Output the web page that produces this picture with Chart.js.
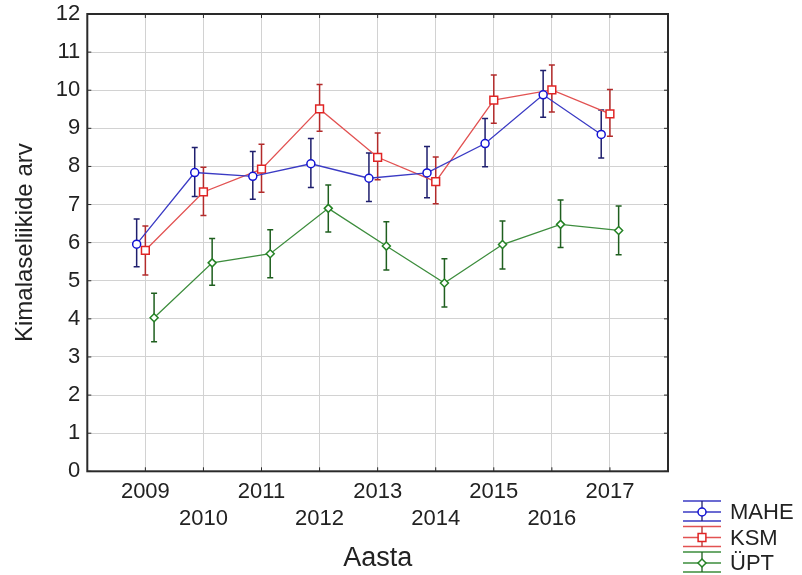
<!DOCTYPE html>
<html>
<head>
<meta charset="utf-8">
<script src="https://cdn.jsdelivr.net/npm/chart.js@4/dist/chart.umd.min.js"></script>
<style>
  html, body { margin: 0; padding: 0; background: #fff; }
  #wrap { width: 802px; height: 575px; position: relative; }
</style>
</head>
<body>
<div id="wrap"><canvas id="c"></canvas></div>
<script>
// Kimalaseliikide arv aastate kaupa (keskmine ja usaldusvahemik)
const years = [2009, 2010, 2011, 2012, 2013, 2014, 2015, 2016, 2017];
const yTicks = [0, 1, 2, 3, 4, 5, 6, 7, 8, 9, 10, 11, 12];
const seriesNames = ['MAHE', 'KSM', 'ÜPT'];

const maheMean = [5.96, 7.84, 7.74, 8.07, 7.69, 7.83, 8.60, 9.88, 8.84];
const maheLow  = [5.37, 7.21, 7.14, 7.45, 7.08, 7.18, 7.99, 9.29, 8.22];
const maheHigh = [6.62, 8.50, 8.39, 8.73, 8.35, 8.52, 9.26, 10.52, 9.48];

const ksmMean = [5.80, 7.33, 7.93, 9.51, 8.24, 7.60, 9.74, 10.01, 9.38];
const ksmLow  = [5.15, 6.71, 7.32, 8.92, 7.65, 7.02, 9.13, 9.43, 8.79];
const ksmHigh = [6.44, 7.98, 8.58, 10.15, 8.88, 8.25, 10.40, 10.66, 10.02];

const uptMean = [4.03, 5.47, 5.71, 6.90, 5.91, 4.94, 5.95, 6.48, 6.32];
const uptLow  = [3.40, 4.88, 5.08, 6.28, 5.28, 4.31, 5.31, 5.87, 5.68];
const uptHigh = [4.67, 6.11, 6.34, 7.51, 6.55, 5.58, 6.57, 7.12, 6.96];

const dodge = 0.15; // horisontaalne nihe rühmade vahel

function makeSet(name, mean, low, high, shift, lineColor, markColor, errColor, style, radius) {
  return {
    label: name,
    data: years.map((y, i) => ({ x: y + shift, y: mean[i] })),
    low: low, high: high, errColor: errColor,
    borderColor: lineColor, borderWidth: 1.3,
    pointStyle: style, pointRadius: radius,
    pointBorderColor: markColor, pointBackgroundColor: '#fff',
    pointBorderWidth: 1.5, tension: 0
  };
}

const errorBars = {
  id: 'errorBars',
  beforeDatasetsDraw(chart) {
    const ctx = chart.ctx, ys = chart.scales.y;
    chart.data.datasets.forEach((ds, di) => {
      const meta = chart.getDatasetMeta(di);
      ctx.save();
      ctx.strokeStyle = ds.errColor;
      ctx.lineWidth = 1.5;
      meta.data.forEach((pt, i) => {
        const y1 = ys.getPixelForValue(ds.low[i]), y2 = ys.getPixelForValue(ds.high[i]);
        ctx.beginPath();
        ctx.moveTo(pt.x, y1); ctx.lineTo(pt.x, y2);
        ctx.moveTo(pt.x - 3, y1); ctx.lineTo(pt.x + 3, y1);
        ctx.moveTo(pt.x - 3, y2); ctx.lineTo(pt.x + 3, y2);
        ctx.stroke();
      });
      ctx.restore();
    });
  }
};

const frame = {
  id: 'frame',
  beforeDatasetsDraw(chart) {
    const ctx = chart.ctx, a = chart.chartArea;
    const xs = chart.scales.x, ys = chart.scales.y;
    ctx.save();
    ctx.strokeStyle = '#2a2a2a';
    ctx.lineWidth = 1;
    ctx.beginPath();
    years.forEach(y => {
      const px = xs.getPixelForValue(y);
      ctx.moveTo(px, a.bottom); ctx.lineTo(px, a.bottom - 4);
      ctx.moveTo(px, a.top); ctx.lineTo(px, a.top + 4);
    });
    yTicks.forEach(v => {
      const py = ys.getPixelForValue(v);
      ctx.moveTo(a.left, py); ctx.lineTo(a.left + 4, py);
      ctx.moveTo(a.right, py); ctx.lineTo(a.right - 4, py);
    });
    ctx.stroke();
    ctx.lineWidth = 2;
    ctx.strokeRect(a.left, a.top, a.right - a.left, a.bottom - a.top);
    ctx.restore();
  }
};

const errLegend = {
  id: 'errLegend',
  afterDraw(chart) {
    const ctx = chart.ctx, a = chart.chartArea;
    const cx = a.right + 34;
    chart.data.datasets.forEach((ds, i) => {
      const cy = 512 + 25.5 * i;
      ctx.save();
      ctx.strokeStyle = ds.borderColor;
      ctx.lineWidth = 1.3;
      ctx.beginPath();
      [-11, 0, 9].forEach(d => { ctx.moveTo(cx - 19, cy + d); ctx.lineTo(cx + 19, cy + d); });
      ctx.stroke();
      ctx.strokeStyle = ds.errColor;
      ctx.beginPath();
      ctx.moveTo(cx, cy - 11); ctx.lineTo(cx, cy + 9);
      ctx.stroke();
      ctx.strokeStyle = ds.pointBorderColor;
      ctx.fillStyle = '#fff';
      ctx.lineWidth = 1.5;
      Chart.helpers.drawPoint(ctx, { pointStyle: ds.pointStyle, radius: ds.pointRadius, borderWidth: 1.5 }, cx, cy);
      ctx.fillStyle = '#222';
      ctx.font = '22px "Liberation Sans", Arial, sans-serif';
      ctx.textBaseline = 'middle';
      ctx.fillText(ds.label, cx + 28, cy + 1);
      ctx.restore();
    });
  }
};

new Chart(document.getElementById('c'), {
  type: 'line',
  data: {
    datasets: [
      makeSet(seriesNames[0], maheMean, maheLow, maheHigh, -dodge, '#3b3bc4', '#1414d4', '#1f1f6e', 'circle', 4),
      makeSet(seriesNames[1], ksmMean, ksmLow, ksmHigh, 0, '#e25252', '#e02424', '#b22b2b', 'rect', 5.5),
      makeSet(seriesNames[2], uptMean, uptLow, uptHigh, dodge, '#3d8d3d', '#248224', '#1f5f1f', 'rectRot', 4)
    ]
  },
  options: {
    responsive: true,
    maintainAspectRatio: false,
    animation: false,
    layout: { padding: { top: 14, right: 134, left: 0, bottom: 0 } },
    plugins: { legend: { display: false }, tooltip: { enabled: false } },
    scales: {
      x: {
        type: 'linear', min: 2008, max: 2018,
        afterFit: s => { s.height = 103.7; },
        grid: { color: '#d2d2d2', drawTicks: false },
        border: { display: false },
        afterBuildTicks: s => { s.ticks = [2008].concat(years, [2018]).map(v => ({ value: v })); },
        ticks: {
          autoSkip: false, maxRotation: 0, padding: 7.5, color: '#222',
          font: { family: '"Liberation Sans", Arial, sans-serif', size: 22, lineHeight: 1.23 },
          callback: v => years.includes(v) ? (v % 2 ? [String(v), ''] : ['', String(v)]) : ''
        },
        title: {
          display: true, text: 'Aasta', color: '#222',
          font: { family: '"Liberation Sans", Arial, sans-serif', size: 27 },
          padding: { top: 0, bottom: 0 }
        }
      },
      y: {
        min: 0, max: 12,
        afterFit: s => { s.width = 87.3; },
        afterBuildTicks: s => { s.ticks = yTicks.map(v => ({ value: v })); },
        grid: { color: '#d2d2d2', drawTicks: false },
        border: { display: false },
        ticks: {
          padding: 7, color: '#222',
          font: { family: '"Liberation Sans", Arial, sans-serif', size: 22, lineHeight: 0.5 }
        },
        title: {
          display: true, text: 'Kimalaseliikide arv', color: '#222',
          font: { family: '"Liberation Sans", Arial, sans-serif', size: 24 },
          padding: { top: 11, bottom: 0 }
        }
      }
    }
  },
  plugins: [frame, errorBars, errLegend]
});
</script>
</body>
</html>
